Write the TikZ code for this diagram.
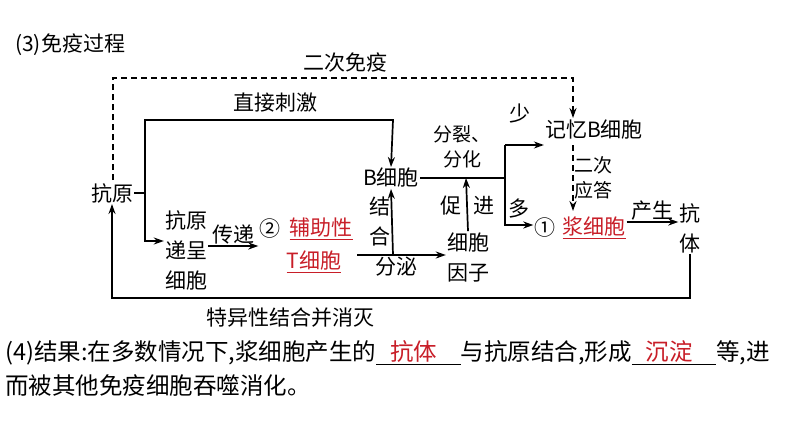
\documentclass[tikz,border=0pt]{standalone}
\usepackage{fontspec}
\setmainfont{Liberation Serif}
\newfontfamily\cjk{Noto Sans CJK SC}
\usetikzlibrary{arrows.meta,positioning}
\definecolor{ansred}{RGB}{200,30,40}
\tikzset{
  lbl/.style={inner sep=1pt, font=\cjk\fontsize{21}{30}\selectfont},
  big/.style={inner sep=1pt, font=\cjk\fontsize{23.5}{33}\selectfont},
  sml/.style={inner sep=1pt, font=\cjk\fontsize{19}{25}\selectfont, align=center},
  flow/.style={-{Stealth[length=10pt,width=7pt]}, line width=1.7pt},
  plain/.style={line width=1.7pt},
  dsh/.style={dash pattern=on 6pt off 4pt},
}
\begin{document}
\begin{tikzpicture}[x=1pt,y=-1pt]
  \useasboundingbox (0,0) rectangle (794,447);
  \node[lbl, anchor=west] (title) at (14,45) {(3)免疫过程};
  % main nodes
  \node[lbl] (antigen) at (112,193) {抗原};
  \node[lbl, align=center] (apc) at (186,250) {抗原\\递呈\\细胞};
  \node[lbl] (num2) at (270,229) {②};
  \node[lbl, text=ansred] (helper) at (321,229) {\underline{辅助性}};
  \node[lbl, text=ansred] (tcell) at (314,262) {\underline{T细胞}};
  \node[lbl] (bcell) at (391,178) {B细胞};
  \node[lbl, align=center] (cytok) at (468,257) {细胞\\因子};
  \node[lbl] (memb) at (594,130) {记忆B细胞};
  \node[lbl] (num1) at (545,228) {①};
  \node[lbl, text=ansred] (plasma) at (594,228) {\underline{浆细胞}};
  \node[lbl, align=center] (ab) at (690,228) {抗\\体};
  % helper points
  \coordinate (split) at (145,193);
  \coordinate (fork) at (505,178);
  \coordinate (tjoin) at (393,255);
  % connectors
  \draw[plain] (antigen.east) -- (split);
  \draw[flow] (split) |- (apc.west |- 0,241);
  \draw[flow] (split) |- (393,120) -- (bcell.north);
  \draw[flow] (apc.east |- 0,246) -- node[lbl, above] {传递} (num2.west |- 0,246);
  \draw[flow] (357,255) -- node[lbl, below, pos=0.45] {分泌} (cytok.west |- 0,255);
  \draw[flow] (tjoin) -- node[lbl, left, align=center] {结\\合} (bcell.south);
  \draw[plain] (bcell.east) -- (fork);
  \draw[flow] (cytok.north) -- (466,178);
  \node[lbl] (prom1) at (451,206) {促};
  \node[lbl] (prom2) at (484,206) {进};
  \node[sml] (divide) at (462,147) {分裂、\\分化};
  \draw[flow] (505,145) -- (fork) -- (505,225) -- (num1.west |- 0,225);
  \node[lbl] (many) at (519,209) {多};
  \draw[flow] (505,145) -- (memb.west |- 0,145);
  \node[lbl] (few) at (520,114) {少};
  \draw[flow, dsh] (573,145) -- node[sml, right] {二次\\应答} (573,211);
  \draw[flow] (plasma.east |- 0,222) -- node[lbl, above] {产生} (ab.west |- 0,222);
  \draw[flow, dsh] (113,180) |- (573,78) -- (573,118);
  \node[lbl] (second) at (345,62) {二次免疫};
  \node[lbl] (direct) at (275,103) {直接刺激};
  \draw[flow] (ab.south) -- (690,298) -| (antigen.south);
  \node[lbl] (kill) at (290,318) {特异性结合并消灭};
  % result text
  \node[big, anchor=west] (res1) at (4,353) {(4)结果:在多数情况下,浆细胞产生的\underline{\hspace{0.6em}\textcolor{ansred}{抗体}\hspace{1em}}与抗原结合,形成\underline{\hspace{0.6em}\textcolor{ansred}{沉淀}\hspace{1em}}等,进};
  \node[big, anchor=west] (res2) at (4,386) {而被其他免疫细胞吞噬消化。};
\end{tikzpicture}
\end{document}
